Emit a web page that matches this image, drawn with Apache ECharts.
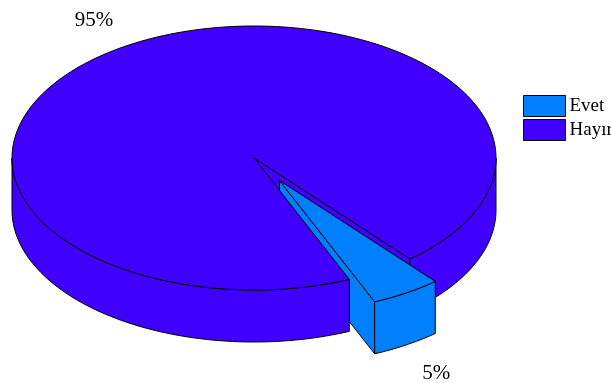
<!DOCTYPE html>
<html>
<head>
<meta charset="utf-8">
<style>html,body{margin:0;padding:0;background:#fff}#c{width:611px;height:383px}</style>
<script src="https://cdn.jsdelivr.net/npm/echarts@6/dist/echarts.min.js"></script>
</head>
<body>
<div id="c"></div>
<script>
const categories = ['Evet', 'Hayır'];
const values = [4.7, 95.3];
const colors = ['#0080FF', '#4000FF'];

const CX = 254, CY = 158, RX = 242, RY = 132, DEPTH = 52;
const START_DEG = 49.9, EXPLODE = 0.2;
const total = values.reduce((a, b) => a + b, 0);
const rad = d => d * Math.PI / 180;
const sweep = values.map(v => v / total * 360);
const evetFrom = START_DEG, evetTo = evetFrom + sweep[0];
const hayirFrom = evetTo, hayirTo = hayirFrom + sweep[1];

function pt(deg, ox, oy, dy) {
  return [CX + ox + RX * Math.cos(rad(deg)), CY + oy + dy + RY * Math.sin(rad(deg))];
}
function arc(from, to, ox, oy, dy) {
  const n = Math.max(2, Math.ceil(Math.abs(to - from) / 1.5));
  const out = [];
  for (let i = 0; i <= n; i++) out.push(pt(from + (to - from) * i / n, ox, oy, dy));
  return out;
}
function poly(points, fill, z2) {
  return { type: 'polygon', z2, shape: { points },
    style: { fill, stroke: '#000', lineWidth: 1, lineJoin: 'round' } };
}
function label(mid, value, ox, oy) {
  const front = Math.sin(rad(mid)) > 0;
  const x = CX + ox + RX * Math.cos(rad(mid)) * (front ? 1.235 : 1.26);
  const y = CY + oy + RY * Math.sin(rad(mid)) * 1.225 + (front ? DEPTH + 3 : 0);
  return { type: 'text', z2: 5, style: { x, y, text: Math.round(value) + '%',
    fill: '#000', font: '21px "Liberation Serif"', align: 'center', verticalAlign: 'middle' } };
}

function renderEvet() {
  const mid = (evetFrom + evetTo) / 2;
  const ox = EXPLODE * RX * Math.cos(rad(mid)), oy = EXPLODE * RY * Math.sin(rad(mid));
  const apex = [CX + ox, CY + oy], apexB = [CX + ox, CY + oy + DEPTH];
  const c = colors[0];
  const L = pt(evetTo, ox, oy, 0), LB = pt(evetTo, ox, oy, DEPTH);
  return { type: 'group', children: [
    poly([apex, L, LB, apexB], c, 2),
    poly(arc(evetFrom, evetTo, ox, oy, 0).concat(arc(evetTo, evetFrom, ox, oy, DEPTH)), c, 2),
    poly([apex].concat(arc(evetFrom, evetTo, ox, oy, 0)), c, 2),
    label(mid, values[0], ox, oy)
  ] };
}
function renderHayir() {
  const c = colors[1];
  const mid = (hayirFrom + hayirTo) / 2;
  const apex = [CX, CY], apexB = [CX, CY + DEPTH];
  const R = pt(evetFrom, 0, 0, 0), RB = pt(evetFrom, 0, 0, DEPTH);
  return { type: 'group', children: [
    poly([apex, R, RB, apexB], c, 1),
    poly(arc(0, evetFrom, 0, 0, 0).concat(arc(evetFrom, 0, 0, 0, DEPTH)), c, 1),
    poly(arc(hayirFrom, 180, 0, 0, 0).concat(arc(180, hayirFrom, 0, 0, DEPTH)), c, 3),
    poly([apex].concat(arc(hayirFrom, hayirTo, 0, 0, 0)), c, 3),
    label(mid, values[1], 0, 0)
  ] };
}

const chart = echarts.init(document.getElementById('c'), null, { renderer: 'canvas' });
chart.setOption({
  animation: false,
  backgroundColor: '#fff',
  legend: {
    data: categories, orient: 'vertical', left: 523, top: 95, padding: 0,
    itemWidth: 42, itemHeight: 21, itemGap: 2, icon: 'rect',
    selectedMode: false,
    itemStyle: { borderColor: '#000', borderWidth: 1 },
    textStyle: { fontFamily: 'Liberation Serif', fontSize: 19, color: '#000', padding: [5, 0, 0, -1] }
  },
  series: [
    { type: 'custom', name: categories[0], coordinateSystem: 'none', silent: true, data: [values[0]],
      itemStyle: { color: colors[0] }, renderItem: renderEvet },
    { type: 'custom', name: categories[1], coordinateSystem: 'none', silent: true, data: [values[1]],
      itemStyle: { color: colors[1] }, renderItem: renderHayir }
  ]
});
</script>
</body>
</html>
